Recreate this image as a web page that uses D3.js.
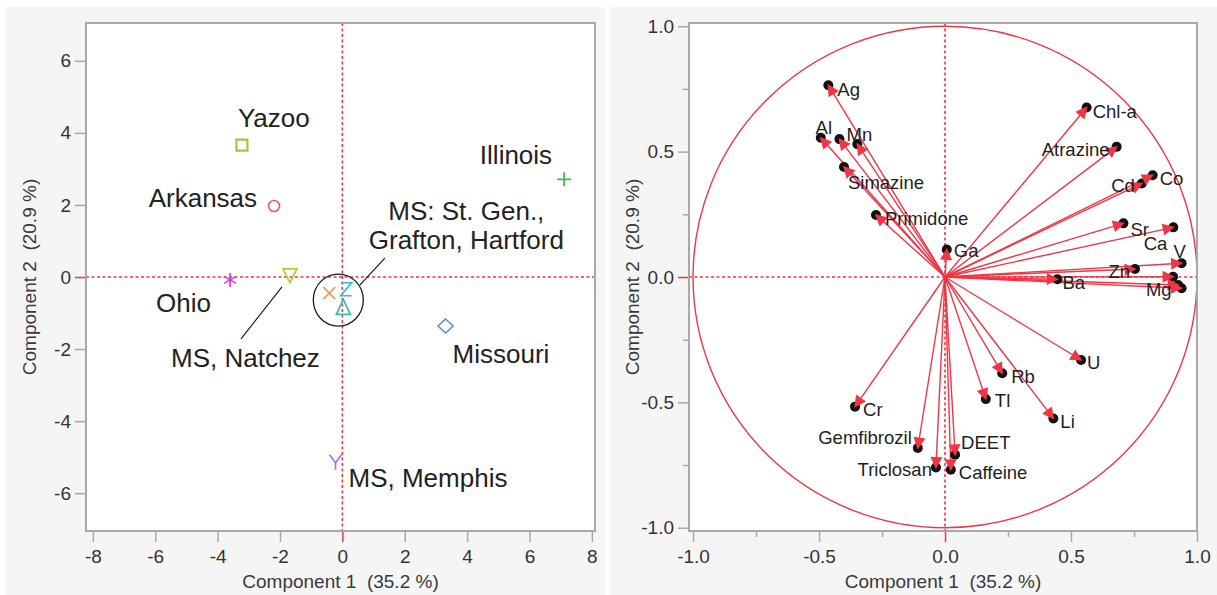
<!DOCTYPE html>
<html>
<head>
<meta charset="utf-8">
<script src="https://cdn.jsdelivr.net/npm/d3@7"></script>
<style>
  html, body { margin: 0; padding: 0; background: #fff; }
  svg { display: block; font-family: "Liberation Sans", Arial, sans-serif; }
</style>
</head>
<body>
<svg id="chart" width="1217" height="595"></svg>
<script>
// ---- Site scores on the first two principal components ----
const sites  = ["Yazoo", "Arkansas", "Illinois", "Ohio", "MS, Natchez",
                "MS: St. Gen.", "MS: Grafton", "MS: Hartford", "Missouri", "MS, Memphis"];
const scoreC1 = [-3.22, -2.19, 7.11, -3.60, -1.68, -0.42, 0.12, 0.03, 3.31, -0.22];
const scoreC2 = [ 3.66,  1.97, 2.71, -0.08,  0.03, -0.45, -0.34, -0.83, -1.36, -5.13];

// ---- Variable loadings (blank name = unlabeled vector) ----
const variables = ["Ag", "Al", "", "Mn", "Simazine", "Primidone", "Ga", "Chl-a", "Atrazine",
                   "Cd", "Co", "Sr", "Ca", "V", "Zn", "Ba", "", "", "Mg",
                   "U", "Rb", "Tl", "Li", "Cr", "Gemfibrozil", "DEET", "Triclosan", "Caffeine"];
const loadC1 = [-0.463, -0.493, -0.419, -0.348, -0.401, -0.274, 0.007, 0.562, 0.681,
                 0.781, 0.824, 0.708, 0.906, 0.939, 0.754, 0.446, 0.905, 0.925, 0.939,
                 0.540, 0.227, 0.162, 0.430, -0.357, -0.108, 0.040, -0.036, 0.023];
const loadC2 = [ 0.765, 0.555, 0.550, 0.530, 0.439, 0.247, 0.110, 0.676, 0.519,
                 0.373, 0.406, 0.214, 0.198, 0.055, 0.032, -0.009, 0.001, -0.032, -0.045,
                -0.331, -0.384, -0.487, -0.564, -0.517, -0.682, -0.709, -0.760, -0.769];

// ---- Axis ticks and titles ----
const scoreTicksX = [-8, -6, -4, -2, 0, 2, 4, 6, 8];
const scoreTicksY = [-6, -4, -2, 0, 2, 4, 6];
const loadTicks   = [-1, -0.5, 0, 0.5, 1];
const loadMinor   = [-0.75, -0.25, 0.25, 0.75];
const xTitle = "Component 1  (35.2 %)";
const yTitle = "Component 2  (20.9 %)";

// ---- Styling ----
const RED = "#ef3546";
const FRAME = "#a9a9a9";
const markerStyle = {
  "Yazoo":        { shape: "square",   color: "#a5c443" },
  "Arkansas":     { shape: "circle",   color: "#e85b66" },
  "Illinois":     { shape: "plus",     color: "#3cb94a" },
  "Ohio":         { shape: "asterisk", color: "#d43fd4" },
  "MS, Natchez":  { shape: "triDown",  color: "#c9c232" },
  "MS: St. Gen.": { shape: "cross",    color: "#e89a5c" },
  "MS: Grafton":  { shape: "zed",      color: "#2fc0d4" },
  "MS: Hartford": { shape: "triUp",    color: "#2ec3a2" },
  "Missouri":     { shape: "diamond",  color: "#6b8ff0" },
  "MS, Memphis":  { shape: "wye",      color: "#b06ee0" }
};
const shapePaths = {
  square:   "M-5.5,-5.5H5.5V5.5H-5.5Z",
  plus:     "M-7,0H7M0,-7V7",
  asterisk: "M0,-7V7M-6,-3.5L6,3.5M-6,3.5L6,-3.5",
  triDown:  "M-7,-7H7L0,7Z",
  cross:    "M-6,-6L6,6M-6,6L6,-6",
  zed:      "M-5.5,-6.5H5.5L-5.5,6.5H5.5",
  triUp:    "M0,-7.5L7,7.5H-7Z",
  diamond:  "M0,-7L7.5,0L0,7L-7.5,0Z",
  wye:      "M0,1L-6,-7M0,1L6,-7M0,1V8"
};

const svg = d3.select("#chart");

// Panel backgrounds
svg.append("rect").attr("x", 5).attr("y", 7).attr("width", 600).attr("height", 588).attr("fill", "#f5f5f5");
svg.append("rect").attr("x", 610).attr("y", 7).attr("width", 607).attr("height", 588).attr("fill", "#f5f5f5");

function drawFrame(box, xs, ys, xTicks, yTicks, fmt, minorX, minorY) {
  svg.append("rect").attr("x", box.left).attr("y", box.top)
    .attr("width", box.right - box.left).attr("height", box.bottom - box.top)
    .attr("fill", "#fff");

  const gx = svg.append("g").attr("transform", `translate(0,${box.bottom})`)
    .call(d3.axisBottom(xs).tickValues(xTicks).tickSize(11).tickPadding(8).tickFormat(fmt));
  const gy = svg.append("g").attr("transform", `translate(${box.left},0)`)
    .call(d3.axisLeft(ys).tickValues(yTicks).tickSize(11).tickPadding(4).tickFormat(fmt));
  [gx, gy].forEach(g => {
    g.select(".domain").remove();
    g.selectAll(".tick line").attr("stroke", d => d === 0 ? RED : FRAME).attr("stroke-width", 1.5);
    g.selectAll(".tick text").attr("font-size", 19).attr("fill", "#333")
      .attr("font-family", "'Liberation Sans', Arial, sans-serif");
  });
  if (minorX) {
    const mx = svg.append("g").attr("transform", `translate(0,${box.bottom})`)
      .call(d3.axisBottom(xs).tickValues(minorX).tickSize(6).tickFormat(""));
    const my = svg.append("g").attr("transform", `translate(${box.left},0)`)
      .call(d3.axisLeft(ys).tickValues(minorY).tickSize(6).tickFormat(""));
    [mx, my].forEach(g => {
      g.select(".domain").remove();
      g.selectAll(".tick line").attr("stroke", FRAME).attr("stroke-width", 1.5);
    });
  }

  // Zero reference lines
  svg.append("line").attr("x1", box.left).attr("x2", box.right)
    .attr("y1", ys(0)).attr("y2", ys(0))
    .attr("stroke", RED).attr("stroke-width", 1.6).attr("stroke-dasharray", "3,2.5");
  svg.append("line").attr("x1", xs(0)).attr("x2", xs(0))
    .attr("y1", box.top).attr("y2", box.bottom)
    .attr("stroke", RED).attr("stroke-width", 1.6).attr("stroke-dasharray", "3,2.5");

  // Axis titles
  svg.append("text").attr("x", (box.left + box.right) / 2).attr("y", 588)
    .attr("text-anchor", "middle").attr("font-size", 19).attr("fill", "#3a3a3a")
    .style("white-space", "pre").text(xTitle);
  const yc = (box.top + box.bottom) / 2;
  const tx = box.left - 57;
  svg.append("text").attr("transform", `translate(${tx},${yc}) rotate(-90)`)
    .attr("text-anchor", "middle").attr("dominant-baseline", "central")
    .attr("font-size", 19).attr("fill", "#3a3a3a")
    .style("white-space", "pre").text(yTitle);
}

function drawBorder(box) {
  svg.append("rect").attr("x", box.left).attr("y", box.top)
    .attr("width", box.right - box.left).attr("height", box.bottom - box.top)
    .attr("fill", "none").attr("stroke", FRAME).attr("stroke-width", 2);
}

// ================= Score plot =================
const L = { left: 86, right: 595, top: 23, bottom: 531 };
const xS = d3.scaleLinear().domain([-8.22, 8.1]).range([L.left, L.right]);
const yS = d3.scaleLinear().domain([-7.05, 7.05]).range([L.bottom, L.top]);
drawFrame(L, xS, yS, scoreTicksX, scoreTicksY, d => String(d));

const scores = sites.map((s, i) => ({ site: s, c1: scoreC1[i], c2: scoreC2[i] }));
const marks = svg.append("g").selectAll("g").data(scores).join("g")
  .attr("transform", d => `translate(${xS(d.c1)},${yS(d.c2)})`);
marks.each(function(d) {
  const st = markerStyle[d.site];
  const g = d3.select(this);
  if (st.shape === "circle") {
    g.append("circle").attr("r", 5.5).attr("fill", "none").attr("stroke", st.color).attr("stroke-width", 1.6);
  } else {
    g.append("path").attr("d", shapePaths[st.shape]).attr("fill", "none")
      .attr("stroke", st.color).attr("stroke-width", st.shape === "square" ? 2.2 : 1.7)
      .attr("stroke-linejoin", "miter");
  }
});

// Circle around the three clustered Mississippi sites
const groupCenter = { c1: -0.13, c2: -0.64 };
const gcx = xS(groupCenter.c1), gcy = yS(groupCenter.c2);
svg.append("ellipse").attr("cx", gcx).attr("cy", gcy).attr("rx", 25).attr("ry", 26)
  .attr("fill", "none").attr("stroke", "#1a1a1a").attr("stroke-width", 1.3);

// Site labels
const siteLabelLayout = [
  { text: "Yazoo",       at: "Yazoo",       anchor: "start", dx: -4,   dy: -18 },
  { text: "Arkansas",    at: "Arkansas",    anchor: "end",   dx: -17,  dy: 1 },
  { text: "Illinois",    at: "Illinois",    anchor: "end",   dx: -12,  dy: -15 },
  { text: "Ohio",        at: "Ohio",        anchor: "start", dx: -74,  dy: 32 },
  { text: "MS, Natchez", at: "MS, Natchez", anchor: "start", dx: -119, dy: 91 },
  { text: "Missouri",    at: "Missouri",    anchor: "start", dx: 7,    dy: 37 },
  { text: "MS, Memphis", at: "MS, Memphis", anchor: "start", dx: 13,   dy: 25 }
];
const labelG = svg.append("g").attr("font-size", 26).attr("fill", "#222");
siteLabelLayout.forEach(l => {
  const d = scores.find(s => s.site === l.at);
  labelG.append("text").attr("x", xS(d.c1) + l.dx).attr("y", yS(d.c2) + l.dy)
    .attr("text-anchor", l.anchor).text(l.text);
});
labelG.append("text").attr("x", gcx + 128).attr("y", gcy - 80).attr("text-anchor", "middle").text("MS: St. Gen.,");
labelG.append("text").attr("x", gcx + 128).attr("y", gcy - 51).attr("text-anchor", "middle").text("Grafton, Hartford");

// Leader lines
const natchez = scores.find(s => s.site === "MS, Natchez");
const nx = xS(natchez.c1), ny = yS(natchez.c2);
svg.append("line").attr("x1", nx - 8).attr("y1", ny + 11).attr("x2", nx - 49).attr("y2", ny + 63)
  .attr("stroke", "#111").attr("stroke-width", 1.1);
svg.append("line").attr("x1", gcx + 21.5).attr("y1", gcy - 15).attr("x2", gcx + 46.5).attr("y2", gcy - 42)
  .attr("stroke", "#111").attr("stroke-width", 1.1);

drawBorder(L);

// ================= Loading plot =================
const R = { left: 689, right: 1197, top: 23, bottom: 531 };
const xR = d3.scaleLinear().domain([-1.016, 1.0]).range([R.left, R.right]);
const yR = d3.scaleLinear().domain([-1.013, 1.013]).range([R.bottom, R.top]);
drawFrame(R, xR, yR, loadTicks, loadTicks, d => d.toFixed(1), loadMinor, loadMinor);

// Unit circle
svg.append("ellipse").attr("cx", xR(0)).attr("cy", yR(0))
  .attr("rx", xR(1) - xR(0)).attr("ry", yR(0) - yR(1))
  .attr("fill", "none").attr("stroke", RED).attr("stroke-width", 1.4);

const loads = variables.map((v, i) => ({ name: v, c1: loadC1[i], c2: loadC2[i] }));
const ox = xR(0), oy = yR(0);
const vecG = svg.append("g");
vecG.selectAll("line").data(loads).join("line")
  .attr("x1", ox).attr("y1", oy)
  .attr("x2", d => xR(d.c1)).attr("y2", d => yR(d.c2))
  .attr("stroke", RED).attr("stroke-width", 1.4);
vecG.selectAll("circle").data(loads).join("circle")
  .attr("cx", d => xR(d.c1)).attr("cy", d => yR(d.c2)).attr("r", 5)
  .attr("fill", "#111");
// Arrowheads: tip sits just past the point, covering the inner part of the dot
vecG.selectAll("path").data(loads).join("path")
  .attr("d", d => {
    const tx = xR(d.c1), ty = yR(d.c2);
    const len = Math.hypot(tx - ox, ty - oy);
    const ux = (tx - ox) / len, uy = (ty - oy) / len;
    const ex = tx + ux * 1.5, ey = ty + uy * 1.5;
    const bx = ex - ux * 12, by = ey - uy * 12;
    const px = -uy * 6, py = ux * 6;
    return `M${ex},${ey}L${bx + px},${by + py}L${bx - px},${by - py}Z`;
  })
  .attr("fill", RED);

// Variable label placement: text anchor and offset from the vector tip
const varLabelLayout = {
  "Ag": ["start", 9, 4], "Al": ["middle", 3, -10], "Mn": ["middle", 2, -10],
  "Simazine": ["start", 4, 16], "Primidone": ["start", 9, 3], "Ga": ["start", 7, 1],
  "Chl-a": ["start", 6, 4], "Atrazine": ["end", -7, 3], "Cd": ["end", -7, 2],
  "Co": ["start", 7, 3], "Sr": ["start", 7, 6], "Ca": ["end", -6, 16],
  "V": ["middle", -2, -12], "Zn": ["end", -5, 3], "Ba": ["start", 5, 3],
  "Mg": ["end", -10, 1], "U": ["start", 6, 3], "Rb": ["start", 9, 3],
  "Tl": ["start", 9, 1], "Li": ["start", 7, 3], "Cr": ["start", 8, 3],
  "Gemfibrozil": ["end", -6, -11], "DEET": ["start", 6, -12],
  "Triclosan": ["end", -4, 2], "Caffeine": ["start", 8, 3]
};
svg.append("g").attr("font-size", 18.5).attr("fill", "#1e1e1e")
  .selectAll("text").data(loads.filter(d => d.name)).join("text")
  .attr("x", d => xR(d.c1) + varLabelLayout[d.name][1])
  .attr("y", d => yR(d.c2) + varLabelLayout[d.name][2])
  .attr("text-anchor", d => varLabelLayout[d.name][0])
  .attr("dominant-baseline", "central")
  .text(d => d.name);

drawBorder(R);
</script>
</body>
</html>
